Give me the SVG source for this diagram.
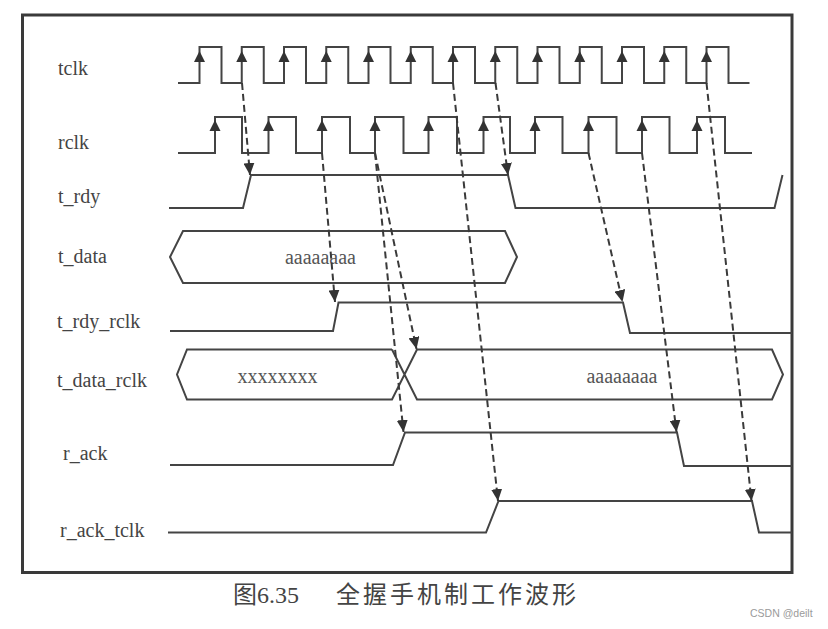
<svg xmlns="http://www.w3.org/2000/svg" xmlns:xlink="http://www.w3.org/1999/xlink" width="828" height="629" viewBox="0 0 828 629">
<style>
.bg{fill:#ffffff}
.frame{fill:none;stroke:#3a3a3a;stroke-width:3}
.wave{fill:none;stroke:#444;stroke-width:2;stroke-linejoin:miter}
.lbl{font-family:"Liberation Serif","Times New Roman",serif;font-size:20px;fill:#444}
.bus{font-family:"Liberation Serif","Times New Roman",serif;font-size:20px;fill:#555}
.dash{fill:none;stroke:#3a3a3a;stroke-width:2;stroke-dasharray:7 4;marker-end:url(#dn)}
.cap{font-family:"Liberation Serif","Noto Sans CJK SC",serif;font-size:24px;fill:#444}
.wm{font-family:"Liberation Sans",Arial,sans-serif;font-size:10.5px;fill:#9a9a9a}
</style>
<defs>
<marker id="dn" viewBox="0 0 12 11" refX="12" refY="5.5" markerWidth="12" markerHeight="11" markerUnits="userSpaceOnUse" orient="auto">
<path d="M0,0 L12,5.5 L0,11 Z" fill="#333"/>
</marker>
<path id="up" d="M0,0 L-5.5,11 L5.5,11 Z" fill="#333"/>
</defs>
<rect class="bg" x="0" y="0" width="828" height="629"/>
<rect class="frame" x="22.5" y="15" width="769.5" height="557.5"/>

<g id="tclk">
<text class="lbl" x="58" y="75">tclk</text>
<path class="wave" d="M178,83 H199.5 V47 H221.5 V83 H241.75 V47 H263.75 V83 H284 V47 H306 V83 H326.25 V47 H348.25 V83 H368.5 V47 H390.5 V83 H410.75 V47 H432.75 V83 H453 V47 H475 V83 H495.25 V47 H517.25 V83 H537.5 V47 H559.5 V83 H579.75 V47 H601.75 V83 H622 V47 H644 V83 H664.25 V47 H686.25 V83 H706.5 V47 H728.5 V83 H749.5"/>
<use xlink:href="#up" x="199.5" y="51"/>
<use xlink:href="#up" x="241.75" y="51"/>
<use xlink:href="#up" x="284" y="51"/>
<use xlink:href="#up" x="326.25" y="51"/>
<use xlink:href="#up" x="368.5" y="51"/>
<use xlink:href="#up" x="410.75" y="51"/>
<use xlink:href="#up" x="453" y="51"/>
<use xlink:href="#up" x="495.25" y="51"/>
<use xlink:href="#up" x="537.5" y="51"/>
<use xlink:href="#up" x="579.75" y="51"/>
<use xlink:href="#up" x="622" y="51"/>
<use xlink:href="#up" x="664.25" y="51"/>
<use xlink:href="#up" x="706.5" y="51"/>
</g>

<g id="rclk">
<text class="lbl" x="58" y="149">rclk</text>
<path class="wave" d="M178,153 H215 V117 H242 V153 H268.5 V117 H296 V153 H322 V117 H350 V153 H375 V117 H403.5 V153 H428.5 V117 H457 V153 H483.5 V117 H510 V153 H535 V117 H562.5 V153 H588.5 V117 H616.5 V153 H642 V117 H669.5 V153 H697 V117 H725 V153 H752"/>
<use xlink:href="#up" x="215" y="120"/>
<use xlink:href="#up" x="268.5" y="120"/>
<use xlink:href="#up" x="322" y="120"/>
<use xlink:href="#up" x="375" y="120"/>
<use xlink:href="#up" x="428.5" y="120"/>
<use xlink:href="#up" x="483.5" y="120"/>
<use xlink:href="#up" x="535" y="120"/>
<use xlink:href="#up" x="588.5" y="120"/>
<use xlink:href="#up" x="642" y="120"/>
<use xlink:href="#up" x="697" y="120"/>
</g>

<g id="t_rdy">
<text class="lbl" x="58" y="203">t_rdy</text>
<path class="wave" d="M169,208 H243 L251,175 H508 L515.5,208 H774.5 L782.5,175"/>
</g>

<g id="t_data">
<text class="lbl" x="58" y="263">t_data</text>
<path class="wave" d="M170,257 L183,231 H505 L517,257 L505,283 H183 Z"/>
<text class="bus" x="320.5" y="264" text-anchor="middle">aaaaaaaa</text>
</g>

<g id="t_rdy_rclk">
<text class="lbl" x="57" y="328">t_rdy_rclk</text>
<path class="wave" d="M170,331 H333 L338.5,302.5 H623 L630,333 H792"/>
</g>

<g id="t_data_rclk">
<text class="lbl" x="57" y="387">t_data_rclk</text>
<path class="wave" d="M392,349.5 H187 L177,374.5 L187,399.5 H392 L417,349.5 H772 L783,374.5 L772,399.5 H417 L392,349.5"/>
<text class="bus" x="277.5" y="382.5" text-anchor="middle">xxxxxxxx</text>
<text class="bus" x="622" y="382.5" text-anchor="middle">aaaaaaaa</text>
</g>

<g id="r_ack">
<text class="lbl" x="63" y="460">r_ack</text>
<path class="wave" d="M170,465 H393 L405,432.5 H677 L684,466 H792"/>
</g>

<g id="r_ack_tclk">
<text class="lbl" x="60" y="537">r_ack_tclk</text>
<path class="wave" d="M168,532.5 H486 L498.5,501 H752 L759,532.5 H792"/>
</g>

<g id="connectors">
<path class="dash" d="M242,83 L250,175"/>
<path class="dash" d="M495.5,83 L508,175"/>
<path class="dash" d="M453,83 L498,501"/>
<path class="dash" d="M706.5,83 L751.5,501"/>
<path class="dash" d="M322,153 L335,302"/>
<path class="dash" d="M375,153 L416.5,349"/>
<path class="dash" d="M375,153 L403.5,432"/>
<path class="dash" d="M588.5,153 L622.5,302"/>
<path class="dash" d="M642,153 L676.5,432"/>
</g>

<g id="caption">
<text class="cap" x="233" y="603">图6.35</text>
<text class="cap" x="336" y="603" textLength="240" lengthAdjust="spacing">全握手机制工作波形</text>
</g>
<text class="wm" x="750" y="617">CSDN @deilt</text>
</svg>
